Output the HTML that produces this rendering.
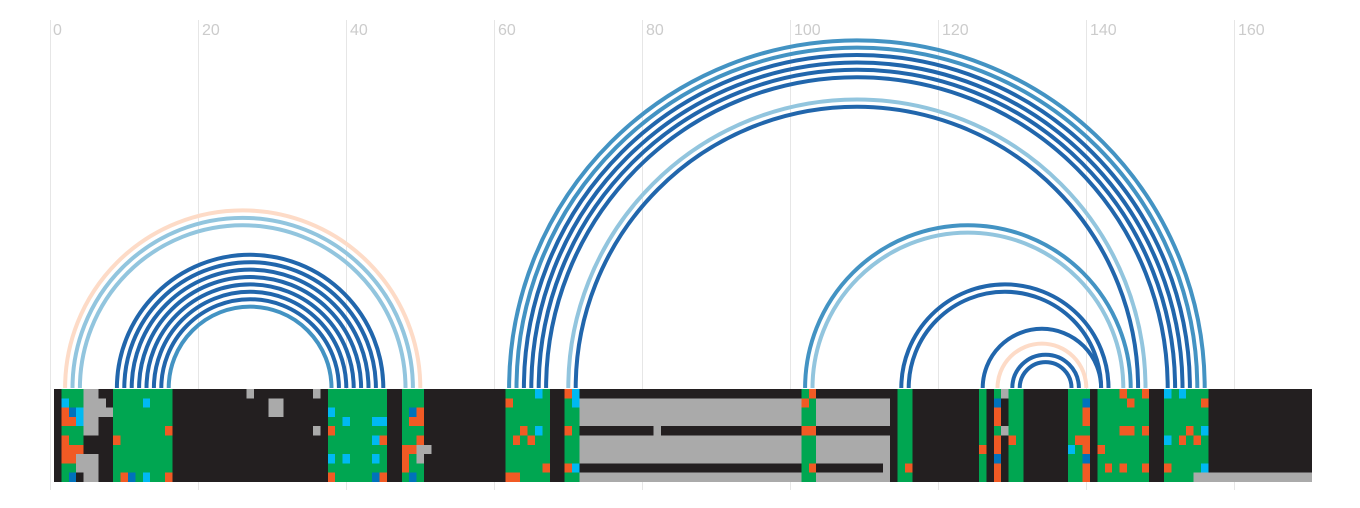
<!DOCTYPE html>
<html><head><meta charset="utf-8"><style>
html,body{margin:0;padding:0;background:#fff;width:1360px;height:508px;overflow:hidden}
svg{display:block}
text{font-family:"Liberation Sans",sans-serif;font-size:16px;fill:#cccccc}
</style></head><body>
<svg width="1360" height="508" viewBox="0 0 1360 508">
<g stroke="#e6e6e6" stroke-width="1">
<line x1="50.5" y1="20" x2="50.5" y2="490"/><line x1="198.5" y1="20" x2="198.5" y2="490"/><line x1="346.5" y1="20" x2="346.5" y2="490"/><line x1="494.5" y1="20" x2="494.5" y2="490"/><line x1="642.5" y1="20" x2="642.5" y2="490"/><line x1="790.5" y1="20" x2="790.5" y2="490"/><line x1="938.5" y1="20" x2="938.5" y2="490"/><line x1="1086.5" y1="20" x2="1086.5" y2="490"/><line x1="1234.5" y1="20" x2="1234.5" y2="490"/>
</g>
<text x="53" y="35">0</text><text x="202" y="35">20</text><text x="350" y="35">40</text><text x="498" y="35">60</text><text x="646" y="35">80</text><text x="794" y="35">100</text><text x="942" y="35">120</text><text x="1090" y="35">140</text><text x="1238" y="35">160</text>
<g fill="none" stroke-width="4">
<path d="M65.1 388 A1 1 0 0 1 420.3 388" stroke="#fddbc7"/>
<path d="M72.5 388 A1 1 0 0 1 412.9 388" stroke="#92c5de"/>
<path d="M79.9 388 A1 1 0 0 1 405.5 388" stroke="#92c5de"/>
<path d="M116.9 388 A1 1 0 0 1 383.3 388" stroke="#2166ac"/>
<path d="M124.3 388 A1 1 0 0 1 375.9 388" stroke="#2166ac"/>
<path d="M131.7 388 A1 1 0 0 1 368.5 388" stroke="#2166ac"/>
<path d="M139.1 388 A1 1 0 0 1 361.1 388" stroke="#2166ac"/>
<path d="M146.5 388 A1 1 0 0 1 353.7 388" stroke="#2166ac"/>
<path d="M153.9 388 A1 1 0 0 1 346.3 388" stroke="#2166ac"/>
<path d="M161.3 388 A1 1 0 0 1 338.9 388" stroke="#2166ac"/>
<path d="M168.7 388 A1 1 0 0 1 331.5 388" stroke="#4393c3"/>
<path d="M509.1 388 A1 1 0 0 1 1204.7 388" stroke="#4393c3"/>
<path d="M516.5 388 A1 1 0 0 1 1197.3 388" stroke="#4393c3"/>
<path d="M523.9 388 A1 1 0 0 1 1189.9 388" stroke="#2166ac"/>
<path d="M531.3 388 A1 1 0 0 1 1182.5 388" stroke="#2166ac"/>
<path d="M538.7 388 A1 1 0 0 1 1175.1 388" stroke="#2166ac"/>
<path d="M546.1 388 A1 1 0 0 1 1167.7 388" stroke="#2166ac"/>
<path d="M568.3 388 A1 1 0 0 1 1145.5 388" stroke="#92c5de"/>
<path d="M575.7 388 A1 1 0 0 1 1138.1 388" stroke="#2166ac"/>
<path d="M805.1 388 A1 1 0 0 1 1130.7 388" stroke="#4393c3"/>
<path d="M812.5 388 A1 1 0 0 1 1123.3 388" stroke="#92c5de"/>
<path d="M901.3 388 A1 1 0 0 1 1108.5 388" stroke="#2166ac"/>
<path d="M908.7 388 A1 1 0 0 1 1101.1 388" stroke="#2166ac"/>
<path d="M982.7 388 A1 1 0 0 1 1101.1 388" stroke="#2166ac"/>
<path d="M997.5 388 A1 1 0 0 1 1086.3 388" stroke="#fddbc7"/>
<path d="M1012.3 388 A1 1 0 0 1 1078.9 388" stroke="#2166ac"/>
<path d="M1019.7 388 A1 1 0 0 1 1071.5 388" stroke="#2166ac"/>
</g>
<g transform="translate(54,389) scale(7.4,9.3)" shape-rendering="crispEdges">
<rect x="0" y="0" width="170" height="10" fill="#231f20"/>
<g fill="#aaaaaa">
<rect x="4" y="0" width="2" height="5"/><rect x="6" y="1" width="1" height="1"/><rect x="6" y="2" width="2" height="1"/><rect x="3" y="7" width="3" height="2"/><rect x="4" y="9" width="2" height="1"/>
<rect x="26" y="0" width="1" height="1"/><rect x="29" y="1" width="2" height="2"/><rect x="35" y="0" width="1" height="1"/><rect x="35" y="4" width="1" height="1"/>
<rect x="49" y="6" width="2" height="1"/><rect x="48" y="7" width="2" height="1"/>
<rect x="71" y="1" width="42" height="3"/><rect x="71" y="5" width="42" height="3"/><rect x="71" y="9" width="42" height="1"/><rect x="81" y="4" width="1" height="1"/><rect x="112" y="8" width="1" height="1"/>
<rect x="128" y="0" width="1" height="1"/><rect x="128" y="4" width="1" height="1"/>
<rect x="154" y="9" width="16" height="1"/>
</g>
<g fill="#00a651">
<rect x="1" y="0" width="3" height="7"/><rect x="1" y="7" width="2" height="3"/><rect x="8" y="0" width="8" height="10"/><rect x="37" y="0" width="8" height="10"/><rect x="47" y="0" width="2" height="10"/><rect x="49" y="0" width="1" height="6"/><rect x="49" y="8" width="1" height="2"/>
<rect x="61" y="0" width="6" height="10"/><rect x="69" y="0" width="2" height="10"/><rect x="101" y="0" width="2" height="10"/><rect x="114" y="0" width="2" height="10"/>
<rect x="125" y="0" width="1" height="10"/><rect x="127" y="0" width="1" height="10"/><rect x="129" y="0" width="2" height="10"/><rect x="137" y="0" width="3" height="10"/><rect x="141" y="0" width="7" height="10"/><rect x="150" y="0" width="6" height="9"/><rect x="150" y="9" width="4" height="1"/>
</g>
<g fill="#f15a24">
<rect x="1" y="2" width="1" height="1"/><rect x="1" y="3" width="2" height="1"/><rect x="1" y="5" width="1" height="1"/><rect x="1" y="6" width="3" height="1"/><rect x="1" y="7" width="2" height="1"/>
<rect x="15" y="4" width="1" height="1"/><rect x="8" y="5" width="1" height="1"/><rect x="9" y="9" width="1" height="1"/><rect x="15" y="9" width="1" height="1"/>
<rect x="37" y="4" width="1" height="1"/><rect x="44" y="5" width="1" height="1"/><rect x="37" y="9" width="1" height="1"/><rect x="44" y="9" width="1" height="1"/>
<rect x="49" y="2" width="1" height="1"/><rect x="48" y="3" width="2" height="1"/><rect x="49" y="5" width="1" height="1"/><rect x="47" y="6" width="2" height="1"/><rect x="47" y="7" width="1" height="2"/>
<rect x="61" y="1" width="1" height="1"/><rect x="63" y="4" width="1" height="1"/><rect x="62" y="5" width="1" height="1"/><rect x="64" y="5" width="1" height="1"/><rect x="66" y="8" width="1" height="1"/><rect x="61" y="9" width="2" height="1"/>
<rect x="69" y="0" width="1" height="1"/><rect x="69" y="4" width="1" height="1"/><rect x="69" y="8" width="1" height="1"/>
<rect x="102" y="0" width="1" height="1"/><rect x="101" y="1" width="1" height="1"/><rect x="101" y="4" width="2" height="1"/><rect x="102" y="8" width="1" height="1"/>
<rect x="115" y="8" width="1" height="1"/><rect x="125" y="6" width="1" height="1"/>
<rect x="127" y="2" width="1" height="2"/><rect x="127" y="5" width="1" height="2"/><rect x="127" y="8" width="1" height="2"/><rect x="129" y="5" width="1" height="1"/>
<rect x="139" y="2" width="1" height="2"/><rect x="138" y="5" width="2" height="1"/><rect x="139" y="6" width="1" height="1"/><rect x="139" y="8" width="1" height="2"/>
<rect x="144" y="0" width="1" height="1"/><rect x="147" y="0" width="1" height="1"/><rect x="145" y="1" width="1" height="1"/><rect x="144" y="4" width="2" height="1"/><rect x="147" y="4" width="1" height="1"/><rect x="141" y="6" width="1" height="1"/><rect x="142" y="8" width="1" height="1"/><rect x="144" y="8" width="1" height="1"/><rect x="147" y="8" width="1" height="1"/>
<rect x="155" y="1" width="1" height="1"/><rect x="153" y="4" width="1" height="1"/><rect x="152" y="5" width="1" height="1"/><rect x="154" y="5" width="1" height="1"/><rect x="150" y="8" width="1" height="1"/>
</g>
<g fill="#00b9f2">
<rect x="1" y="1" width="1" height="1"/><rect x="3" y="2" width="1" height="2"/><rect x="12" y="1" width="1" height="1"/><rect x="12" y="9" width="1" height="1"/>
<rect x="37" y="2" width="1" height="1"/><rect x="39" y="3" width="1" height="1"/><rect x="43" y="3" width="2" height="1"/><rect x="43" y="5" width="1" height="1"/><rect x="37" y="7" width="1" height="1"/><rect x="39" y="7" width="1" height="1"/><rect x="43" y="7" width="1" height="1"/>
<rect x="65" y="0" width="1" height="1"/><rect x="65" y="4" width="1" height="1"/><rect x="70" y="0" width="1" height="2"/><rect x="70" y="8" width="1" height="1"/>
<rect x="137" y="6" width="1" height="1"/>
<rect x="150" y="0" width="1" height="1"/><rect x="152" y="0" width="1" height="1"/><rect x="155" y="4" width="1" height="1"/><rect x="150" y="5" width="1" height="1"/><rect x="155" y="8" width="1" height="1"/>
</g>
<g fill="#0072bc">
<rect x="2" y="2" width="1" height="1"/><rect x="2" y="9" width="1" height="1"/><rect x="10" y="9" width="1" height="1"/><rect x="43" y="9" width="1" height="1"/><rect x="48" y="2" width="1" height="1"/><rect x="48" y="9" width="1" height="1"/>
<rect x="127" y="1" width="1" height="1"/><rect x="127" y="7" width="1" height="1"/><rect x="139" y="1" width="1" height="1"/><rect x="139" y="7" width="1" height="1"/>
</g>
</g>
</svg>
</body></html>
